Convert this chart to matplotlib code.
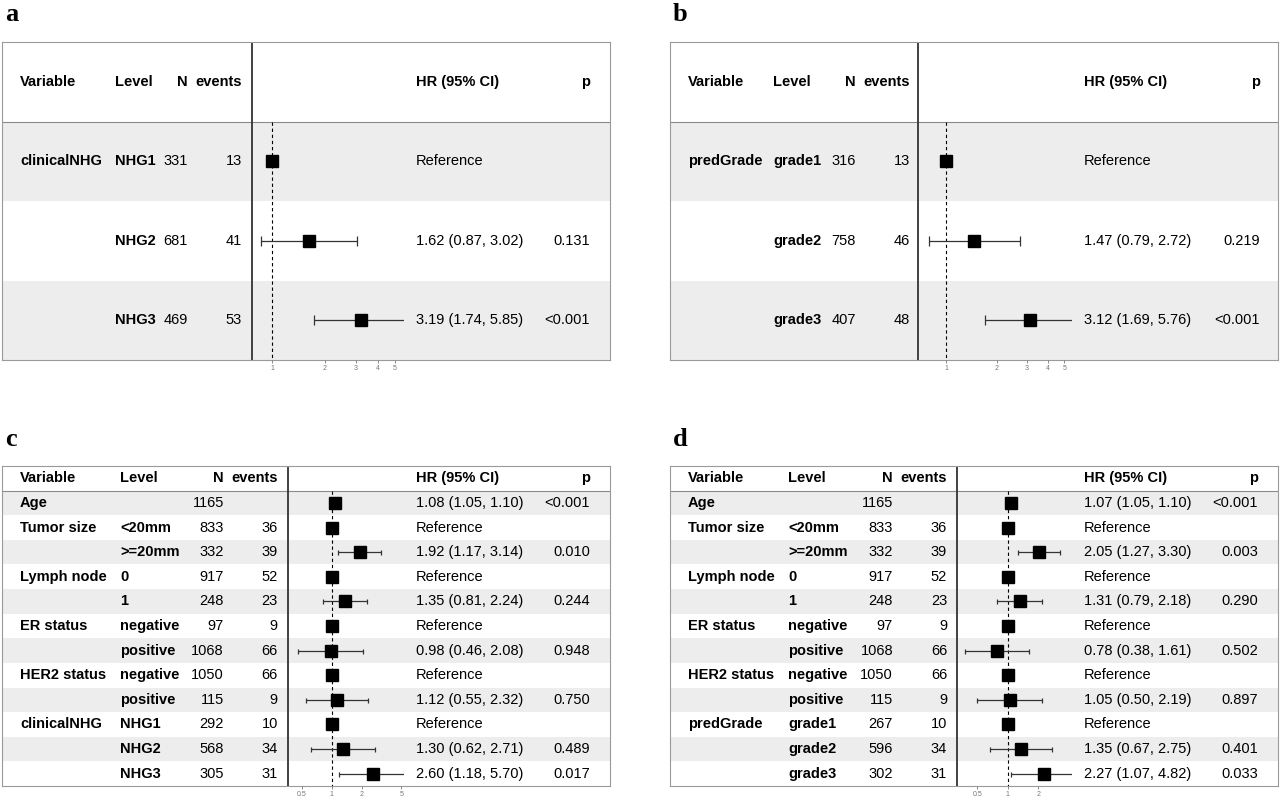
import numpy as np
import matplotlib.pyplot as plt

plt.rcParams['font.family'] = ['Liberation Sans', 'DejaVu Sans']

# ---- data -------------------------------------------------------------
a_var = ['clinicalNHG', '', '']
a_level = ['NHG1', 'NHG2', 'NHG3']
a_n = [331, 681, 469]
a_events = [13, 41, 53]
a_hr = [1.0, 1.62, 3.19]
a_lo = [None, 0.87, 1.74]
a_hi = [None, 3.02, 5.85]
a_p = ['', '0.131', '<0.001']

b_var = ['predGrade', '', '']
b_level = ['grade1', 'grade2', 'grade3']
b_n = [316, 758, 407]
b_events = [13, 46, 48]
b_hr = [1.0, 1.47, 3.12]
b_lo = [None, 0.79, 1.69]
b_hi = [None, 2.72, 5.76]
b_p = ['', '0.219', '<0.001']

cd_var = ['Age', 'Tumor size', '', 'Lymph node', '', 'ER status', '',
          'HER2 status', '', 'clinicalNHG', '', '']
cd_level = ['', '<20mm', '>=20mm', '0', '1', 'negative', 'positive',
            'negative', 'positive', 'NHG1', 'NHG2', 'NHG3']
c_n = [1165, 833, 332, 917, 248, 97, 1068, 1050, 115, 292, 568, 305]
c_events = [None, 36, 39, 52, 23, 9, 66, 66, 9, 10, 34, 31]
c_hr = [1.08, 1.0, 1.92, 1.0, 1.35, 1.0, 0.98, 1.0, 1.12, 1.0, 1.30, 2.60]
c_lo = [1.05, None, 1.17, None, 0.81, None, 0.46, None, 0.55, None, 0.62, 1.18]
c_hi = [1.10, None, 3.14, None, 2.24, None, 2.08, None, 2.32, None, 2.71, 5.70]
c_p = ['<0.001', '', '0.010', '', '0.244', '', '0.948', '', '0.750', '', '0.489', '0.017']

d_var = ['Age', 'Tumor size', '', 'Lymph node', '', 'ER status', '',
         'HER2 status', '', 'predGrade', '', '']
d_level = ['', '<20mm', '>=20mm', '0', '1', 'negative', 'positive',
           'negative', 'positive', 'grade1', 'grade2', 'grade3']
d_n = [1165, 833, 332, 917, 248, 97, 1068, 1050, 115, 267, 596, 302]
d_events = [None, 36, 39, 52, 23, 9, 66, 66, 9, 10, 34, 31]
d_hr = [1.07, 1.0, 2.05, 1.0, 1.31, 1.0, 0.78, 1.0, 1.05, 1.0, 1.35, 2.27]
d_lo = [1.05, None, 1.27, None, 0.79, None, 0.38, None, 0.50, None, 0.67, 1.07]
d_hi = [1.10, None, 3.30, None, 2.18, None, 1.61, None, 2.19, None, 2.75, 4.82]
d_p = ['<0.001', '', '0.003', '', '0.290', '', '0.502', '', '0.897', '', '0.401', '0.033']

W, H = 1280, 798
FS = 10.5
fig = plt.figure(figsize=(W / 100, H / 100), dpi=100)


def panel(label, left, top, bottom, cols, var, level, n, events, hr, lo, hi, p,
          ticks, capsize):
    width = 608
    nrow = len(var) + 1
    ax = fig.add_axes([left / W, (H - bottom) / H, width / W, (bottom - top) / H])
    ax.set_xlim(0, width)
    ax.set_ylim(nrow - 0.5, -0.5)
    ax.set_xticks([])
    ax.set_yticks([])
    for s in ax.spines.values():
        s.set_color('#9a9a9a')
        s.set_linewidth(0.8)
    for i in range(1, nrow):
        if i % 2 == 1:
            ax.axhspan(i - 0.5, i + 0.5, color='#ededed', lw=0, zorder=0)
    ax.axhline(0.5, color='#8a8a8a', lw=0.8)
    ax.axvline(cols['sep'], color='#333333', lw=1.3)

    hb = dict(fontsize=FS, fontweight='bold', va='center')
    ax.text(cols['var'], 0, 'Variable', ha='left', **hb)
    ax.text(cols['level'], 0, 'Level', ha='left', **hb)
    ax.text(cols['n'], 0, 'N', ha='right', **hb)
    ax.text(cols['ev'], 0, 'events', ha='right', **hb)
    ax.text(cols['hr'], 0, 'HR (95% CI)', ha='left', **hb)
    ax.text(cols['p'], 0, 'p', ha='right', **hb)

    for i in range(len(var)):
        y = i + 1
        ax.text(cols['var'], y, var[i], ha='left', **hb)
        ax.text(cols['level'], y, level[i], ha='left', **hb)
        ax.text(cols['n'], y, str(n[i]), ha='right', va='center', fontsize=FS)
        if events[i] is not None:
            ax.text(cols['ev'], y, str(events[i]), ha='right', va='center', fontsize=FS)
        if lo[i] is None:
            txt = 'Reference'
        else:
            txt = f'{hr[i]:.2f} ({lo[i]:.2f}, {hi[i]:.2f})'
        ax.text(cols['hr'], y, txt, ha='left', va='center', fontsize=FS)
        ax.text(cols['p'], y, p[i], ha='right', va='center', fontsize=FS)

    # forest part, log scale, 1 placed at cols['one'] px with cols['scale'] px per ln unit
    fx0 = cols['sep']
    fx1 = cols['hr'] - 12
    fa = fig.add_axes([(left + fx0) / W, (H - bottom) / H, (fx1 - fx0) / W,
                       (bottom - top) / H])
    fa.patch.set_visible(False)
    fa.set_xscale('log')
    fa.set_xlim(np.exp((fx0 - cols['one']) / cols['scale']),
                np.exp((fx1 - cols['one']) / cols['scale']))
    fa.set_ylim(nrow - 0.5, -0.5)
    for s in fa.spines.values():
        s.set_visible(False)
    fa.set_yticks([])
    fa.set_xticks(ticks)
    fa.set_xticklabels([f'{t:g}' for t in ticks])
    fa.minorticks_off()
    fa.tick_params(axis='x', length=2, width=0.6, pad=1.5, labelsize=5,
                   colors='#777777')
    fa.plot([1, 1], [0.5, nrow - 0.5], color='black', lw=0.8,
            linestyle=(0, (3, 2.5)))
    ys = np.arange(1, nrow)
    for i in range(len(var)):
        if lo[i] is not None:
            fa.errorbar(hr[i], ys[i], xerr=[[hr[i] - lo[i]], [hi[i] - hr[i]]],
                        fmt='none', ecolor='#333333', elinewidth=0.9,
                        capsize=capsize, capthick=0.9)
    fa.plot(hr, ys, 's', color='black', markersize=8.6, zorder=5)

    fig.text((left + 3) / W, 1 - 21 / H if top < 100 else 1 - 446 / H, label,
             fontsize=19, fontweight='bold', family='Liberation Serif',
             ha='left', va='baseline')


cols_a = dict(var=18, level=113, n=186, ev=240, sep=250, hr=414, p=588, one=270, scale=76.5)
cols_b = dict(var=18, level=103, n=186, ev=240, sep=248, hr=414, p=590, one=276, scale=73.6)
cols_c = dict(var=18, level=118, n=222, ev=276, sep=286, hr=414, p=588, one=329.7, scale=43.3)
cols_d = dict(var=18, level=118, n=223, ev=277, sep=287, hr=414, p=588, one=337.7, scale=44.0)

panel('a', 2, 42, 360, cols_a, a_var, a_level, a_n, a_events, a_hr, a_lo, a_hi, a_p,
      [1, 2, 3, 4, 5], 3.5)
panel('b', 670, 42, 360, cols_b, b_var, b_level, b_n, b_events, b_hr, b_lo, b_hi, b_p,
      [1, 2, 3, 4, 5], 3.5)
panel('c', 2, 466, 786, cols_c, cd_var, cd_level, c_n, c_events, c_hr, c_lo, c_hi, c_p,
      [0.5, 1, 2, 5], 1.8)
panel('d', 670, 466, 786, cols_d, d_var, d_level, d_n, d_events, d_hr, d_lo, d_hi, d_p,
      [0.5, 1, 2], 1.8)

fig.savefig('out.png', dpi=100)
